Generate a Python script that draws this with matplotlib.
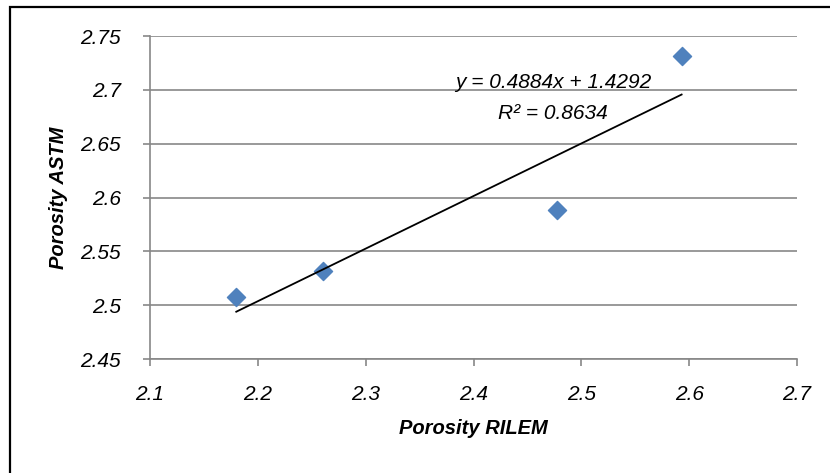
import numpy as np
import matplotlib.pyplot as plt
from matplotlib.patches import Rectangle

# data
rilem = [2.18, 2.26, 2.477, 2.593]
astm = [2.508, 2.532, 2.588, 2.731]
slope = 0.4884
intercept = 1.4292
r2 = 0.8634

xticks = [2.1, 2.2, 2.3, 2.4, 2.5, 2.6, 2.7]
yticks = [2.45, 2.5, 2.55, 2.6, 2.65, 2.7, 2.75]

plt.rcParams['font.family'] = ['Liberation Sans', 'DejaVu Sans']
grid_col = '#878787'

fig = plt.figure(figsize=(8.3, 4.73), dpi=100)
ax = fig.add_axes([150 / 830, 1 - 359 / 473, 647 / 830, 323 / 473])

# outer chart border
fig.patches.append(Rectangle((10 / 830, -0.05), 1.2, 1 - 7 / 473 + 0.05,
                             transform=fig.transFigure, fill=False,
                             edgecolor='black', linewidth=1.6))

ax.scatter(rilem, astm, marker='D', s=85, color='#4F81BD', zorder=3)

# linear trendline
xt = np.array([min(rilem), max(rilem)])
ax.plot(xt, slope * xt + intercept, color='black', linewidth=1.3, zorder=4)

ax.text(2.474, 2.707, f'y = {slope}x + {intercept}', ha='center', va='center',
        fontsize=15, style='italic')
ax.text(2.474, 2.678, f'R² = {r2}', ha='center', va='center',
        fontsize=15, style='italic')

ax.set_xlim(2.1, 2.7)
ax.set_ylim(2.45, 2.75)
ax.set_xticks(xticks)
ax.set_yticks(yticks)
ax.set_xticklabels([f'{t:g}' for t in xticks], fontsize=15, style='italic')
ax.set_yticklabels([f'{t:g}' for t in yticks], fontsize=15, style='italic')
ax.yaxis.grid(True, color=grid_col, linewidth=1.2)
ax.set_axisbelow(True)

for s in ['top', 'right']:
    ax.spines[s].set_visible(False)
for s in ['left', 'bottom']:
    ax.spines[s].set_color(grid_col)
    ax.spines[s].set_linewidth(1.2)
ax.tick_params(axis='both', direction='out', length=5, width=1.2, color=grid_col)
ax.tick_params(axis='x', pad=14)
ax.tick_params(axis='y', pad=16)

ax.set_xlabel('Porosity RILEM', fontsize=14.5, fontweight='bold', style='italic', va='center')
ax.set_ylabel('Porosity ASTM', fontsize=14.5, fontweight='bold', style='italic', va='center')
ax.xaxis.set_label_coords(0.5, -(428 - 359) / 323)
ax.yaxis.set_label_coords(-(150 - 58) / 647, 0.5)

fig.savefig('out.png', dpi=100)
